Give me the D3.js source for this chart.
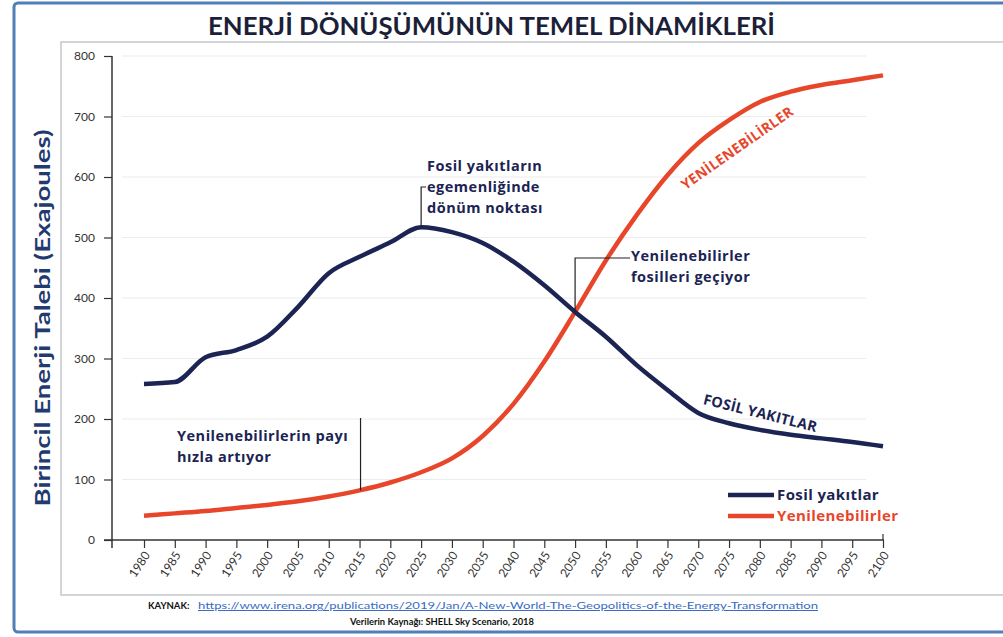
<!DOCTYPE html>
<html>
<head>
<meta charset="utf-8">
<script src="https://cdn.jsdelivr.net/npm/d3@7"></script>
<style>
  body { margin: 0; background: #fff; }
  svg text { font-family: Lato, "Open Sans", sans-serif; }
  svg text.lbl { font-family: "Open Sans", Lato, sans-serif; font-weight: bold; }
</style>
</head>
<body>
<svg id="chart"></svg>
<script>
// yillar ve seriler (Exajoules)
var years = [1980,1985,1990,1995,2000,2005,2010,2015,2020,2025,2030,2035,2040,
             2045,2050,2055,2060,2065,2070,2075,2080,2085,2090,2095,2100];
var fossil = [258,261,302,314,336,385,441,468,492,517,509,491,460,
              421,377,336,289,248,210,193,182,174,168,162,155];
var renew = [40,44,48,53,58,64,72,82,95,112,135,172,225,
             295,377,462,537,603,656,694,724,741,752,760,768];
var yTicks = [0,100,200,300,400,500,600,700,800];
var legendNames = ["Fosil yakıtlar","Yenilenebilirler"];

var W = 1003, H = 637;
var navy = "#1b2452", red = "#e8462a";

var svg = d3.select("#chart").attr("width", W).attr("height", H);

// cerceveler
svg.append("rect")
    .attr("x", 14).attr("y", 3).attr("width", 1000).attr("height", 629)
    .attr("rx", 4)
    .style("fill", "#fff").style("stroke", "#4f7fb6").style("stroke-width", 3);
svg.append("path")
    .attr("d", "M1010,42 H61 V595 H1010")
    .style("fill", "none").style("stroke", "#c4c8cc").style("stroke-width", 1.5);

var x = d3.scaleLinear().domain([1980, 2100]).range([144, 883]);
var y = d3.scaleLinear().domain([0, 800]).range([540, 56]);

// izgara
svg.append("g").selectAll("line")
    .data(yTicks.slice(1))
    .enter().append("line")
    .attr("x1", 122).attr("x2", 866)
    .attr("y1", function(d) { return y(d); })
    .attr("y2", function(d) { return y(d); })
    .style("stroke", "#ececec").style("stroke-width", 1.2);

// eksenler
var yAxis = svg.append("g")
    .attr("transform", "translate(112,0)")
    .call(d3.axisLeft(y).tickValues(yTicks).tickSize(8).tickPadding(9));
yAxis.select(".domain").remove();
svg.append("line")
    .attr("x1", 112).attr("x2", 112).attr("y1", y(800)).attr("y2", 548)
    .style("stroke", "#333").style("stroke-width", 1.5);

var xAxis = svg.append("g")
    .attr("transform", "translate(0,540)")
    .call(d3.axisBottom(x).tickValues(years).tickSize(8).tickFormat(d3.format("d")));
xAxis.select(".domain").remove();
svg.append("line")
    .attr("x1", 104).attr("x2", 884).attr("y1", 540).attr("y2", 540)
    .style("stroke", "#333").style("stroke-width", 1.5);
svg.append("line")
    .attr("x1", 883).attr("x2", 883).attr("y1", 534).attr("y2", 540)
    .style("stroke", "#333").style("stroke-width", 1.2);

svg.selectAll(".tick line").style("stroke", "#333").style("stroke-width", 1.2);
yAxis.selectAll("text").style("font-size", "12px").style("fill", "#333");
xAxis.selectAll("text")
    .style("font-size", "12px").style("fill", "#333")
    .attr("text-anchor", "end")
    .attr("dy", null).attr("y", null)
    .attr("transform", "translate(6,15) rotate(-57)");

// cizgiler
var line = d3.line().curve(d3.curveMonotoneX)
    .x(function(d) { return x(d[0]); })
    .y(function(d) { return y(d[1]); });

svg.append("path")
    .datum(d3.zip(years, renew))
    .attr("d", line)
    .style("fill", "none").style("stroke", red).style("stroke-width", 4.5);
svg.append("path")
    .datum(d3.zip(years, fossil))
    .attr("d", line)
    .style("fill", "none").style("stroke", navy).style("stroke-width", 4.5);

// baslik
svg.append("text")
    .attr("x", 208).attr("y", 35)
    .attr("textLength", 567).attr("lengthAdjust", "spacingAndGlyphs")
    .style("font-size", "25px").style("font-weight", "bold").style("fill", "#1c1f3a")
    .text("ENERJİ DÖNÜŞÜMÜNÜN TEMEL DİNAMİKLERİ");

svg.append("text")
    .attr("transform", "translate(50,318) rotate(-90)")
    .attr("text-anchor", "middle")
    .attr("textLength", 377).attr("lengthAdjust", "spacingAndGlyphs")
    .style("font-size", "21px").style("font-weight", "bold").style("fill", "#1f3b70")
    .text("Birincil Enerji Talebi (Exajoules)");

// notlar
function note(lines, x0, y0) {
    var t = svg.append("text").attr("class", "lbl")
        .style("font-size", "14.5px").style("letter-spacing", "0.5px").style("fill", navy);
    lines.forEach(function(s, i) {
        t.append("tspan").attr("x", x0).attr("y", y0 + i * 21).text(s);
    });
}
note(["Fosil yakıtların", "egemenliğinde", "dönüm noktası"], 427, 171);
note(["Yenilenebilirler", "fosilleri geçiyor"], 631, 261);
note(["Yenilenebilirlerin payı", "hızla artıyor"], 177, 441);

var peak = 2025, cross = 2050, grow = 2015;
svg.append("path")
    .attr("d", "M" + x(peak) + "," + y(fossil[years.indexOf(peak)]) + " V187 H426")
    .style("fill", "none").style("stroke", "#222").style("stroke-width", 1.2);
svg.append("path")
    .attr("d", "M" + x(cross) + "," + y(fossil[years.indexOf(cross)]) + " V258 H630")
    .style("fill", "none").style("stroke", "#222").style("stroke-width", 1.2);
svg.append("line")
    .attr("x1", x(grow) + 1).attr("x2", x(grow) + 1)
    .attr("y1", 418).attr("y2", y(renew[years.indexOf(grow)]))
    .style("stroke", "#222").style("stroke-width", 1.2);

// egri etiketleri
svg.append("text").attr("class", "lbl")
    .attr("transform", "translate(740,152) rotate(-35)")
    .attr("text-anchor", "middle")
    .style("font-size", "14px").style("letter-spacing", "0.3px").style("fill", red)
    .text("YENİLENEBİLİRLER");
svg.append("text").attr("class", "lbl")
    .attr("transform", "translate(759,418) rotate(14)")
    .attr("text-anchor", "middle")
    .style("font-size", "14.5px").style("letter-spacing", "0.2px").style("fill", navy)
    .text("FOSİL YAKITLAR");

// lejant
var leg = svg.append("g").selectAll("g")
    .data(legendNames)
    .enter().append("g")
    .attr("transform", function(d, i) { return "translate(728," + (495 + i * 21) + ")"; });
leg.append("line")
    .attr("x1", 0).attr("x2", 46)
    .style("stroke", function(d, i) { return i ? red : navy; })
    .style("stroke-width", 4.5);
leg.append("text").attr("class", "lbl")
    .attr("x", 49).attr("dy", "0.35em")
    .style("font-size", "15px").style("letter-spacing", "0.4px")
    .style("fill", function(d, i) { return i ? red : navy; })
    .text(function(d) { return d; });

// kaynak
svg.append("text")
    .attr("x", 148).attr("y", 609)
    .style("font-size", "9.5px").style("font-weight", "bold").style("fill", "#111")
    .text("KAYNAK:");
svg.append("text")
    .attr("x", 198).attr("y", 609)
    .attr("textLength", 620).attr("lengthAdjust", "spacingAndGlyphs")
    .style("font-size", "10px").style("fill", "#3a6cc4").style("text-decoration", "underline")
    .text("https://www.irena.org/publications/2019/Jan/A-New-World-The-Geopolitics-of-the-Energy-Transformation");
svg.append("text")
    .attr("x", 350).attr("y", 625)
    .attr("textLength", 184).attr("lengthAdjust", "spacingAndGlyphs")
    .style("font-size", "9.5px").style("font-weight", "bold").style("fill", "#111")
    .text("Verilerin Kaynağı: SHELL Sky Scenario, 2018");
</script>
</body>
</html>
